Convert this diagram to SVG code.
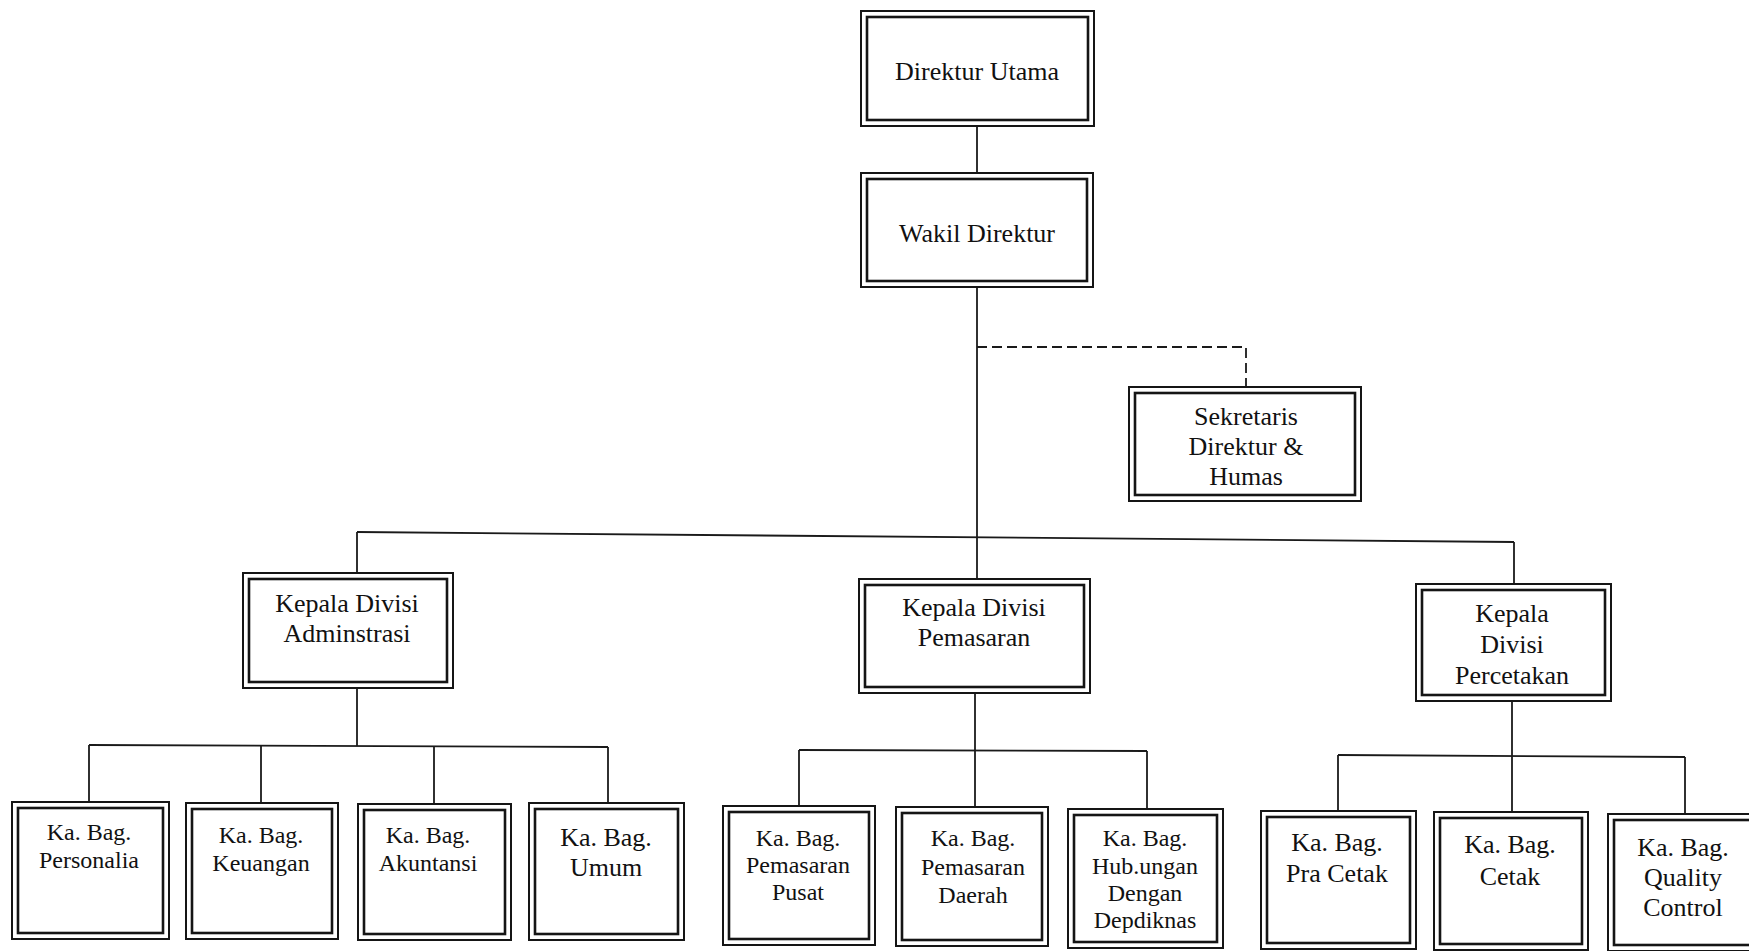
<svg xmlns="http://www.w3.org/2000/svg" width="1749" height="951" viewBox="0 0 1749 951">
<style>
.o{fill:#fff;stroke:#151515;stroke-width:2}
.i{fill:none;stroke:#151515;stroke-width:2.6}
.c{fill:none;stroke:#1a1a1a;stroke-width:1.8}
.d{fill:none;stroke:#1a1a1a;stroke-width:1.8;stroke-dasharray:10 5}
text{font-family:"Liberation Serif","Times New Roman",serif;fill:#111;text-anchor:middle}
.L{font-size:26px}
.S{font-size:24px}
</style>
<rect width="1749" height="951" fill="#fff"/>
<g id="connectors">
<line class="c" x1="977" y1="126" x2="977" y2="173"/>
<line class="c" x1="977" y1="287" x2="977" y2="579"/>
<polyline class="d" points="977,347 1246,347 1246,387"/>
<line class="c" x1="357" y1="532" x2="1514" y2="542"/>
<line class="c" x1="357" y1="532" x2="357" y2="573"/>
<line class="c" x1="1514" y1="542" x2="1514" y2="584"/>
<line class="c" x1="357" y1="688" x2="357" y2="746"/>
<line class="c" x1="89" y1="745" x2="608" y2="747"/>
<line class="c" x1="89" y1="745" x2="89" y2="802"/>
<line class="c" x1="261" y1="745" x2="261" y2="803"/>
<line class="c" x1="434" y1="746" x2="434" y2="804"/>
<line class="c" x1="608" y1="747" x2="608" y2="803"/>
<line class="c" x1="975" y1="693" x2="975" y2="807"/>
<line class="c" x1="799" y1="750" x2="1147" y2="751"/>
<line class="c" x1="799" y1="750" x2="799" y2="806"/>
<line class="c" x1="1147" y1="751" x2="1147" y2="809"/>
<line class="c" x1="1512" y1="701" x2="1512" y2="812"/>
<line class="c" x1="1338" y1="755" x2="1685" y2="757"/>
<line class="c" x1="1338" y1="755" x2="1338" y2="811"/>
<line class="c" x1="1685" y1="757" x2="1685" y2="814"/>
</g>
<g id="direktur-utama">
<rect class="o" x="861" y="11" width="233" height="115"/>
<rect class="i" x="867" y="17" width="221" height="103"/>
<text class="L" x="977" y="80">Direktur Utama</text>
</g>
<g id="wakil-direktur">
<rect class="o" x="861" y="173" width="232" height="114"/>
<rect class="i" x="867" y="179" width="220" height="102"/>
<text class="L" x="977" y="242">Wakil Direktur</text>
</g>
<g id="sekretaris">
<rect class="o" x="1129" y="387" width="232" height="114"/>
<rect class="i" x="1135" y="393" width="220" height="102"/>
<text class="L" x="1246" y="425">Sekretaris</text>
<text class="L" x="1246" y="455">Direktur &amp;</text>
<text class="L" x="1246" y="485">Humas</text>
</g>
<g id="div-administrasi">
<rect class="o" x="243" y="573" width="210" height="115"/>
<rect class="i" x="249" y="579" width="198" height="103"/>
<text class="L" x="347" y="612">Kepala Divisi</text>
<text class="L" x="347" y="642">Adminstrasi</text>
</g>
<g id="div-pemasaran">
<rect class="o" x="859" y="579" width="231" height="114"/>
<rect class="i" x="865" y="585" width="219" height="102"/>
<text class="L" x="974" y="616">Kepala Divisi</text>
<text class="L" x="974" y="646">Pemasaran</text>
</g>
<g id="div-percetakan">
<rect class="o" x="1416" y="584" width="195" height="117"/>
<rect class="i" x="1422" y="590" width="183" height="105"/>
<text class="L" x="1512" y="622">Kepala</text>
<text class="L" x="1512" y="653">Divisi</text>
<text class="L" x="1512" y="684">Percetakan</text>
</g>
<g id="personalia">
<rect class="o" x="12" y="802" width="157" height="137"/>
<rect class="i" x="18" y="808" width="145" height="125"/>
<text class="S" x="89" y="840">Ka. Bag.</text>
<text class="S" x="89" y="868">Personalia</text>
</g>
<g id="keuangan">
<rect class="o" x="186" y="803" width="152" height="136"/>
<rect class="i" x="192" y="809" width="140" height="124"/>
<text class="S" x="261" y="843">Ka. Bag.</text>
<text class="S" x="261" y="871">Keuangan</text>
</g>
<g id="akuntansi">
<rect class="o" x="358" y="804" width="153" height="136"/>
<rect class="i" x="364" y="810" width="141" height="124"/>
<text class="S" x="428" y="843">Ka. Bag.</text>
<text class="S" x="428" y="871">Akuntansi</text>
</g>
<g id="umum">
<rect class="o" x="529" y="803" width="155" height="137"/>
<rect class="i" x="535" y="809" width="143" height="125"/>
<text class="L" x="606" y="846">Ka. Bag.</text>
<text class="L" x="606" y="876">Umum</text>
</g>
<g id="pemasaran-pusat">
<rect class="o" x="723" y="806" width="152" height="139"/>
<rect class="i" x="729" y="812" width="140" height="127"/>
<text class="S" x="798" y="846">Ka. Bag.</text>
<text class="S" x="798" y="873">Pemasaran</text>
<text class="S" x="798" y="900">Pusat</text>
</g>
<g id="pemasaran-daerah">
<rect class="o" x="896" y="807" width="152" height="139"/>
<rect class="i" x="902" y="813" width="140" height="127"/>
<text class="S" x="973" y="846">Ka. Bag.</text>
<text class="S" x="973" y="875">Pemasaran</text>
<text class="S" x="973" y="903">Daerah</text>
</g>
<g id="hubungan-depdiknas">
<rect class="o" x="1068" y="809" width="155" height="139"/>
<rect class="i" x="1074" y="815" width="143" height="127"/>
<text class="S" x="1145" y="846">Ka. Bag.</text>
<text class="S" x="1145" y="874">Hub.ungan</text>
<text class="S" x="1145" y="901">Dengan</text>
<text class="S" x="1145" y="928">Depdiknas</text>
</g>
<g id="pra-cetak">
<rect class="o" x="1261" y="811" width="155" height="138"/>
<rect class="i" x="1267" y="817" width="143" height="126"/>
<text class="L" x="1337" y="851">Ka. Bag.</text>
<text class="L" x="1337" y="882">Pra Cetak</text>
</g>
<g id="cetak">
<rect class="o" x="1434" y="812" width="154" height="138"/>
<rect class="i" x="1440" y="818" width="142" height="126"/>
<text class="L" x="1510" y="853">Ka. Bag.</text>
<text class="L" x="1510" y="885">Cetak</text>
</g>
<g id="quality-control">
<rect class="o" x="1608" y="814" width="160" height="137"/>
<rect class="i" x="1614" y="820" width="148" height="125"/>
<text class="L" x="1683" y="856">Ka. Bag.</text>
<text class="L" x="1683" y="886">Quality</text>
<text class="L" x="1683" y="916">Control</text>
</g>
</svg>
